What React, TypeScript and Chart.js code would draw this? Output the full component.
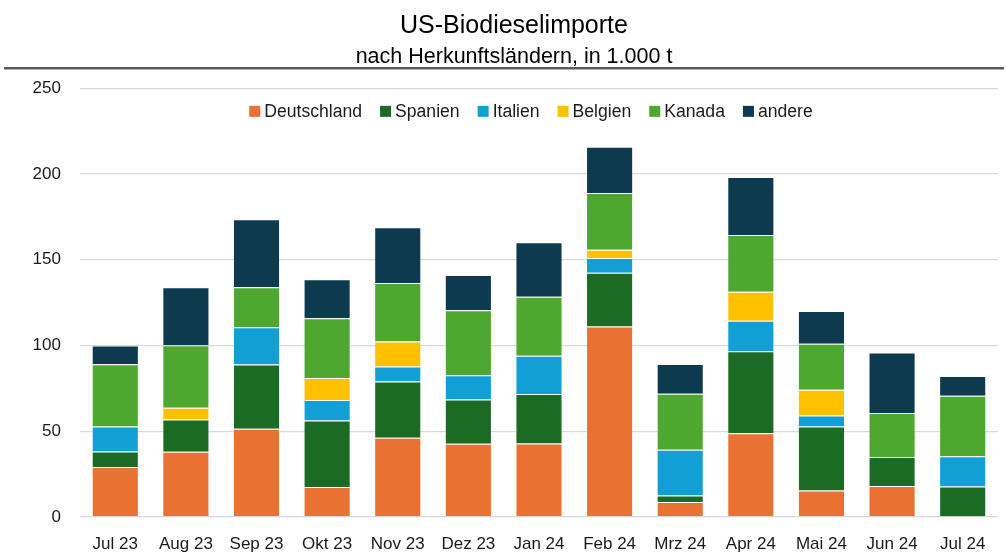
import React, { useEffect, useRef } from "react";
import { Chart, registerables } from "chart.js";

Chart.register(...registerables);

const categories = ["Jul 23", "Aug 23", "Sep 23", "Okt 23", "Nov 23", "Dez 23", "Jan 24", "Feb 24", "Mrz 24", "Apr 24", "Mai 24", "Jun 24", "Jul 24"];
const deutschland = [29.1, 38.1, 51.5, 17.5, 46.2, 42.7, 42.9, 111.1, 8.7, 48.9, 15.5, 18.1, 0];
const spanien = [9.1, 18.8, 37.4, 38.8, 32.8, 25.8, 28.8, 31.4, 3.9, 47.8, 37.3, 16.9, 17.8];
const italien = [14.6, 0, 21.8, 11.9, 8.8, 14.2, 22.3, 8.6, 26.6, 17.7, 6.4, 0, 17.7];
const belgien = [0, 6.8, 0, 12.8, 14.5, 0, 0, 4.7, 0, 16.9, 15.0, 0, 0];
const kanada = [36.3, 36.5, 23.3, 34.9, 34.2, 37.9, 34.4, 33.2, 32.7, 33.2, 26.8, 25.6, 35.2];
const andere = [10.9, 33.8, 39.7, 22.8, 32.5, 20.6, 31.9, 27.0, 17.4, 33.8, 19.2, 35.3, 11.6];

const seriesNames = ["Deutschland", "Spanien", "Italien", "Belgien", "Kanada", "andere"];
const seriesColors = ["#E97132", "#1B6B24", "#119FD6", "#FFC000", "#4EA72E", "#0E3A50"];
const seriesValues = [deutschland, spanien, italien, belgien, kanada, andere];

const titleText = "US-Biodieselimporte";
const subtitleText = "nach Herkunftsländern, in 1.000 t";
const yTicks = [0, 50, 100, 150, 200, 250];

const FONT = "'Liberation Sans', Arial, Helvetica, sans-serif";
const TEXT = "#1a1a1a";

const headerPlugin = {
  id: "header",
  afterDraw(chart: any) {
    const ctx = chart.ctx;
    const cx = 514;
    ctx.save();
    ctx.fillStyle = "#000";
    ctx.textAlign = "center";
    ctx.textBaseline = "alphabetic";
    ctx.font = `25px ${FONT}`;
    ctx.fillText(titleText, cx, 32.6);
    ctx.font = `21.5px ${FONT}`;
    ctx.fillText(subtitleText, cx, 63.4);
    ctx.strokeStyle = "#595959";
    ctx.lineWidth = 2.5;
    ctx.beginPath();
    ctx.moveTo(4, 68.3);
    ctx.lineTo(chart.width - 2, 68.3);
    ctx.stroke();
    ctx.restore();
  },
};

const legendPlugin = {
  id: "customLegend",
  afterDraw(chart: any) {
    const ctx = chart.ctx;
    const area = chart.chartArea;
    ctx.save();
    ctx.font = `17.6px ${FONT}`;
    const box = 11;
    const gapText = 4;
    const gapItem = 18;
    const items = chart.data.datasets.map((ds: any) => ({
      label: ds.label,
      color: ds.backgroundColor,
      w: ctx.measureText(ds.label).width,
    }));
    const total = items.reduce((s: number, it: any) => s + box + gapText + it.w, 0) + gapItem * (items.length - 1);
    let x = (area.left + area.right) / 2 - 8 - total / 2;
    const cy = area.top + 23;
    ctx.textBaseline = "middle";
    ctx.textAlign = "left";
    for (const it of items) {
      ctx.fillStyle = it.color;
      ctx.fillRect(x, cy - box / 2, box, box);
      ctx.fillStyle = TEXT;
      ctx.fillText(it.label, x + box + gapText, cy + 1);
      x += box + gapText + it.w + gapItem;
    }
    ctx.restore();
  },
};

export default function App() {
  const ref = useRef<HTMLCanvasElement | null>(null);

  useEffect(() => {
    if (!ref.current) return;
    const chart = new Chart(ref.current, {
      type: "bar",
      data: {
        labels: categories,
        datasets: seriesNames.map((name, i) => ({
          label: name,
          data: seriesValues[i],
          backgroundColor: seriesColors[i],
          borderColor: "rgba(255,255,255,0.28)",
          borderWidth: 1,
          barPercentage: 0.667,
          categoryPercentage: 1,
        })),
      },
      options: {
        responsive: true,
        maintainAspectRatio: false,
        animation: false,
        layout: { padding: { left: 13.6, right: 8, top: 88.35, bottom: 0 } },
        plugins: {
          legend: { display: false },
          tooltip: { enabled: false },
          title: { display: false, text: titleText },
          subtitle: { display: false, text: subtitleText },
        },
        scales: {
          x: {
            stacked: true,
            grid: { display: false, drawTicks: true, tickLength: 11 },
            border: { display: false },
            ticks: {
              color: TEXT,
              font: { family: FONT, size: 17 },
              padding: 5.8,
              maxRotation: 0,
              autoSkip: false,
            },
          },
          y: {
            stacked: true,
            min: 0,
            max: 250,
            afterBuildTicks: (axis: any) => {
              axis.ticks = yTicks.map((v) => ({ value: v }));
            },
            grid: { color: "#d9d9d9", lineWidth: 1.3, drawTicks: false },
            border: { display: false },
            ticks: {
              color: TEXT,
              font: { family: FONT, size: 17 },
              padding: 19,
            },
          },
        },
      },
      plugins: [headerPlugin, legendPlugin],
    });
    return () => chart.destroy();
  }, []);

  return (
    <div style={{ position: "absolute", left: 0, top: 0, width: 1006, height: 560, background: "#fff" }}>
      <canvas ref={ref} />
    </div>
  );
}
